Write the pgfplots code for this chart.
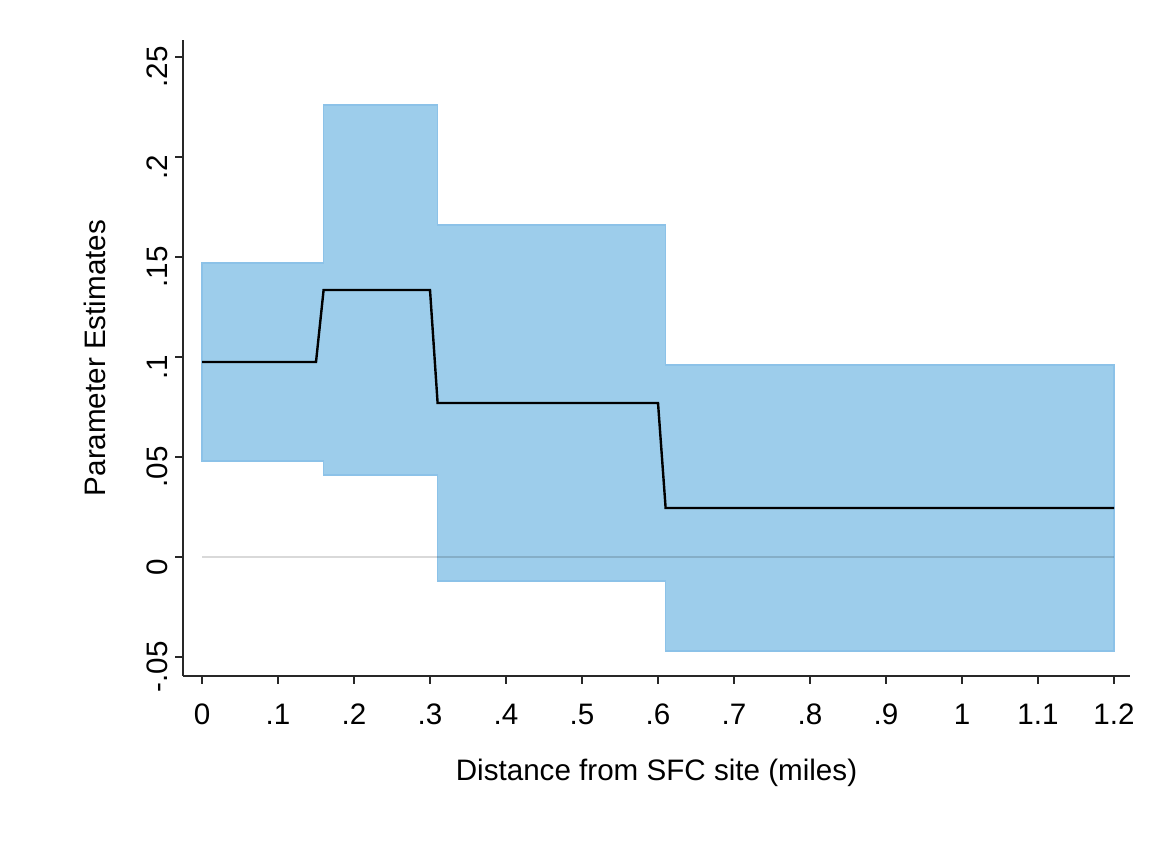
\documentclass[border=0pt]{standalone}
\usepackage{pgfplots}
\pgfplotsset{compat=1.18}
\usepackage{fontspec}
\setmainfont{Liberation Sans}
\definecolor{cifill}{RGB}{157,205,235}
\definecolor{ciedge}{RGB}{140,194,232}
\definecolor{axgray}{RGB}{40,40,40}
\begin{document}
\begin{tikzpicture}[font=\fontsize{14.8}{17}\selectfont]
\begin{axis}[
  name=ax,
  scale only axis,
  width=473.5pt, height=318pt,
  xmin=-0.025, xmax=1.221,
  ymin=-0.0595, ymax=0.2585,
  axis x line*=bottom, axis y line*=left,
  axis line style={-, draw=axgray, line width=0.8pt},
  tick align=outside,
  major tick length=4pt,
  tick style={draw=axgray, line width=0.8pt},
  xtick={0,0.1,0.2,0.3,0.4,0.5,0.6,0.7,0.8,0.9,1,1.1,1.2},
  xticklabels={0,.1,.2,.3,.4,.5,.6,.7,.8,.9,1,1.1,1.2},
  ytick={-0.05,0,0.05,0.1,0.15,0.2,0.25},
  yticklabels={-.05,0,.05,.1,.15,.2,.25},
  yticklabel style={rotate=90, anchor=south, xshift=-5pt},
  xticklabel style={yshift=-6.5pt},
  /pgf/number format/assume math mode=true,
  xlabel={Distance from SFC site (miles)},
  ylabel={Parameter Estimates},
  xlabel style={yshift=-10pt},
  ylabel style={yshift=13.5pt},
  clip=false,
]
\addplot[fill=cifill, draw=ciedge, line width=0.6pt] coordinates {
  (0,0.147) (0.16,0.147) (0.16,0.226) (0.31,0.226) (0.31,0.166)
  (0.61,0.166) (0.61,0.096) (1.2,0.096)
  (1.2,-0.047) (0.61,-0.047) (0.61,-0.012) (0.31,-0.012)
  (0.31,0.041) (0.16,0.041) (0.16,0.048) (0,0.048)
} -- cycle;
\addplot[draw=black, opacity=0.15, line width=0.8pt] coordinates {(0,0) (1.2,0)};
\addplot[black, line width=1.2pt] coordinates {
  (0,0.0975) (0.15,0.0975) (0.16,0.1335) (0.30,0.1335) (0.31,0.077)
  (0.60,0.077) (0.61,0.0245) (1.2,0.0245)
};
\end{axis}
\pgfresetboundingbox
\path[use as bounding box] (ax.south west) ++(-91.5pt,-84pt) rectangle ++(574.5pt,422pt);
\end{tikzpicture}
\end{document}
